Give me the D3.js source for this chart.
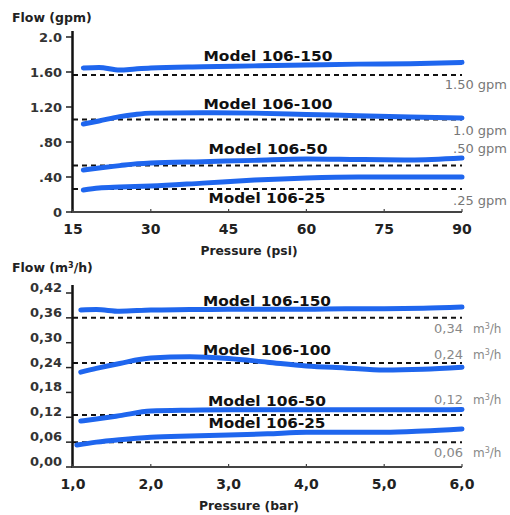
<!DOCTYPE html>
<html><head><meta charset="utf-8">
<script src="https://cdn.jsdelivr.net/npm/d3@7"></script>
<style>
body{margin:0;background:#fff;}
text{font-family:"DejaVu Sans",sans-serif;}
</style></head>
<body><svg id="c" width="510" height="515"></svg>
<script>
// ---- data: top chart (psi / gpm) ----
const psiX = [17,20,24,27,30,40,50,60,70,80,90];
const gpm150 = [1.646,1.652,1.622,1.635,1.646,1.66,1.67,1.68,1.69,1.695,1.71];
const gpm100 = [1.006,1.04,1.09,1.115,1.13,1.135,1.13,1.115,1.10,1.085,1.074];
const gpm50  = [0.48,0.503,0.53,0.55,0.56,0.575,0.59,0.606,0.60,0.595,0.617];
const gpm25  = [0.251,0.274,0.285,0.292,0.297,0.33,0.365,0.389,0.40,0.40,0.40];
const gpmRef = [1.566,1.057,0.531,0.263];
const gpmRefLabels = ["1.50 gpm","1.0 gpm",".50 gpm",".25 gpm"];
const psiTicks = [15,30,45,60,75,90];
const gpmTicks = [0,0.4,0.8,1.2,1.6,2.0];
const gpmTickLabels = ["0",".40",".80","1.20","1.60","2.0"];

// ---- data: bottom chart (bar / m3/h) ----
const barX   = [1.1,1.3,1.6,2.0,2.5,3.0,3.5,4.0,4.5,5.0,5.5,6.0];
const barX25 = [1.05,1.3,1.6,2.0,2.5,3.0,3.5,4.0,4.5,5.0,5.5,6.0];
const m3h150 = [0.379,0.380,0.376,0.379,0.380,0.381,0.381,0.381,0.382,0.382,0.383,0.386];
const m3h100 = [0.229,0.238,0.25,0.263,0.266,0.262,0.253,0.244,0.239,0.234,0.236,0.241];
const m3h50  = [0.111,0.116,0.124,0.135,0.137,0.138,0.138,0.138,0.138,0.138,0.138,0.139];
const m3h25  = [0.053,0.06,0.066,0.072,0.075,0.077,0.08,0.084,0.084,0.084,0.087,0.092];
const m3hRef = [0.36,0.251,0.1255,0.06];
const m3hRefLabels = ["0,34","0,24","0,12","0,06"];
const barTicks = [1,2,3,4,5,6];
const barTickLabels = ["1,0","2,0","3,0","4,0","5,0","6,0"];
const m3hTicks = [0,0.06,0.12,0.18,0.24,0.30,0.36,0.42];
const m3hTickLabels = ["0,00","0,06","0,12","0,18","0,24","0,30","0,36","0,42"];
const models = ["Model 106-150","Model 106-100","Model 106-50","Model 106-25"];

const svg = d3.select("#c");
const BLUE = "#1f66ee";

function panel(o){
  const x = d3.scaleLinear().domain(o.xd).range([73,462]);
  const y = d3.scaleLinear().domain(o.yd).range([o.y0,o.y1]);
  const g = svg.append("g");
  g.append("line").attr("x1",72.5).attr("x2",72.5).attr("y1",o.axTop).attr("y2",o.y0+1)
    .attr("stroke","#111").attr("stroke-width",2.5);
  g.append("line").attr("x1",72).attr("x2",462).attr("y1",o.y0).attr("y2",o.y0)
    .attr("stroke","#444").attr("stroke-width",2.2);
  o.yt.forEach((v,i)=>{
    g.append("line").attr("x1",66).attr("x2",72).attr("y1",y(v)).attr("y2",y(v))
      .attr("stroke","#222").attr("stroke-width",1.5);
    g.append("text").attr("x",62).attr("y",y(v)+o.ylOff).attr("text-anchor","end")
      .attr("font-size",13).attr("font-weight",700).attr("fill","#333").text(o.ytl[i]);
  });
  o.xt.forEach((v,i)=>{
    g.append("line").attr("x1",x(v)).attr("x2",x(v)).attr("y1",o.y0-3).attr("y2",o.y0)
      .attr("stroke","#444").attr("stroke-width",1.2);
    g.append("text").attr("x",x(v)).attr("y",o.y0+22).attr("text-anchor","middle")
      .attr("font-size",14).attr("font-weight",700).attr("fill","#222").text(o.xtl[i]);
  });
  g.append("text").attr("x",12).attr("y",o.titleY).attr("font-size",12.5).attr("font-weight",700)
    .attr("fill","#222").html(o.ytitle);
  g.append("text").attr("x",249).attr("y",o.y0+43).attr("text-anchor","middle")
    .attr("font-size",12.3).attr("font-weight",700).attr("fill","#222").text(o.xtitle);
  o.ref.forEach(v=>{
    g.append("line").attr("x1",73).attr("x2",462).attr("y1",y(v)).attr("y2",y(v))
      .attr("stroke","#111").attr("stroke-width",2).attr("stroke-dasharray","5,4");
  });
  const line = d3.line().x(d=>x(d[0])).y(d=>y(d[1])).curve(d3.curveMonotoneX);
  o.series.forEach(s=>{
    g.append("path").attr("d",line(s.xs.map((xv,i)=>[xv,s.ys[i]])))
      .attr("fill","none").attr("stroke",BLUE).attr("stroke-width",5)
      .attr("stroke-linecap","round");
  });
  models.forEach((m,i)=>{
    g.append("text").attr("x",o.modelX[i]).attr("y",o.modelY[i]).attr("text-anchor","middle")
      .attr("font-size",13.5).attr("font-weight",700).attr("fill","#111")
      .attr("textLength",o.modelW[i]).attr("lengthAdjust","spacingAndGlyphs").text(m);
  });
  o.refLab.forEach((t,i)=>o.drawRef(g,t,o.refLabY[i]));
}

panel({
  xd:[15,90], yd:[0,2], y0:212, y1:37, axTop:31, ylOff:5,
  yt:gpmTicks, ytl:gpmTickLabels, xt:psiTicks, xtl:psiTicks.map(String),
  ytitle:"Flow (gpm)", xtitle:"Pressure (psi)", titleY:22,
  ref:gpmRef,
  series:[{xs:psiX,ys:gpm150},{xs:psiX,ys:gpm100},{xs:psiX,ys:gpm50},{xs:psiX,ys:gpm25}],
  modelX:[268,268,268,267], modelY:[61,109,154,203], modelW:[129,129,119,117],
  refLab:gpmRefLabels, refLabY:[89,135,153,205],
  drawRef:(g,t,yy)=>g.append("text").attr("x",507).attr("y",yy).attr("text-anchor","end")
    .attr("font-family","Open Sans").attr("font-size",13).attr("fill","#777").text(t)
});

panel({
  xd:[1,6], yd:[0,0.42], y0:467, y1:293, axTop:285, ylOff:-1,
  yt:m3hTicks, ytl:m3hTickLabels, xt:barTicks, xtl:barTickLabels,
  ytitle:"Flow (m<tspan font-size='8' dy='-4'>3</tspan><tspan dy='4'>/h)</tspan>", xtitle:"Pressure (bar)", titleY:272,
  ref:m3hRef,
  series:[{xs:barX,ys:m3h150},{xs:barX,ys:m3h100},{xs:barX,ys:m3h50},{xs:barX25,ys:m3h25}],
  modelX:[267,267,267,267], modelY:[306,355,406,428], modelW:[128,128,118,117],
  refLab:m3hRefLabels, refLabY:[333,359,404,457],
  drawRef:(g,t,yy)=>{
    g.append("text").attr("x",463).attr("y",yy).attr("text-anchor","end")
      .attr("font-family","Open Sans").attr("font-size",13).attr("fill","#888").text(t);
    g.append("text").attr("x",473).attr("y",yy).attr("font-family","Open Sans").attr("font-size",12).attr("fill","#888")
      .html("m<tspan font-size='8' dy='-4'>3</tspan><tspan dy='4'>/h</tspan>");
  }
});
</script></body></html>
